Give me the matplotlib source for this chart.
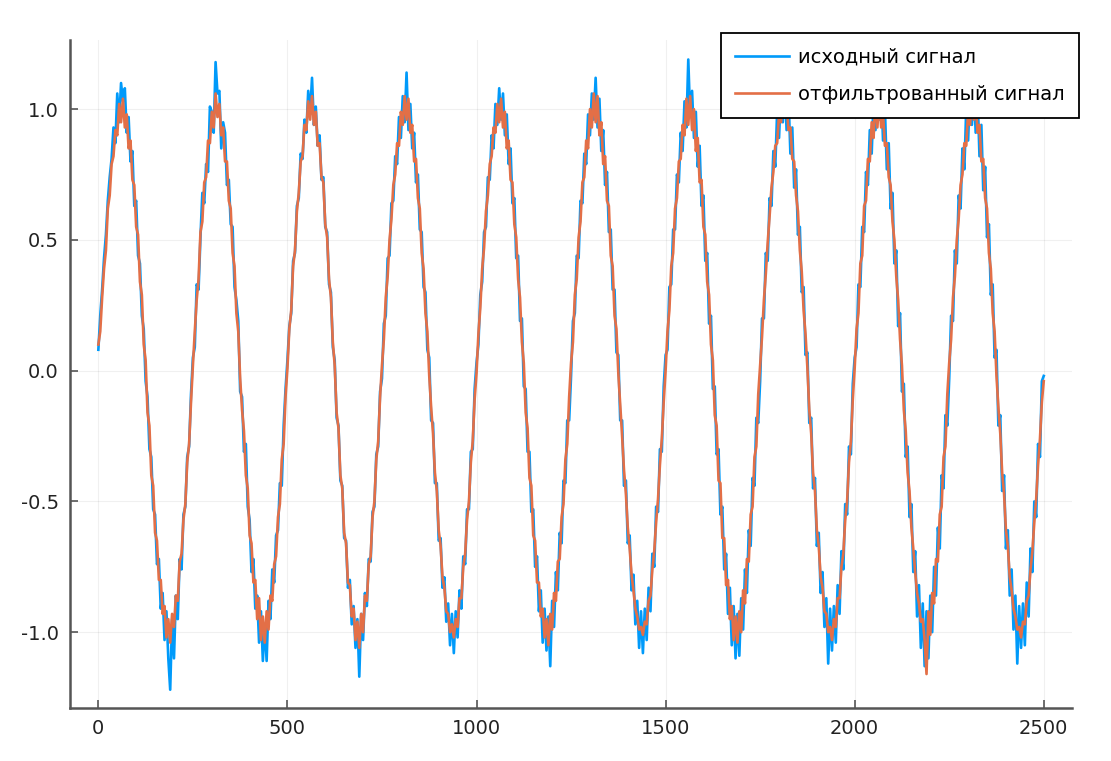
import numpy as np
import matplotlib
matplotlib.use("Agg")
from matplotlib import pyplot as plt

# sample step of the stored values (one value every 5 samples)
step = 5

# original (noisy) signal, one row per period of 250 samples
raw_c1 = [0.08, 0.21, 0.31, 0.43, 0.52, 0.65, 0.74, 0.81, 0.93, 0.87, 1.06, 0.95, 1.10, 1.03, 1.08, 0.91, 0.97, 0.80, 0.84, 0.63, 0.65, 0.44, 0.41, 0.21, 0.16,
          -0.04, -0.10, -0.30, -0.33, -0.53, -0.55, -0.74, -0.72, -0.91, -0.85, -1.03, -0.92, -1.10, -1.22, -0.95, -1.10, -0.86, -0.95, -0.72, -0.76, -0.55, -0.52, -0.33, -0.29, -0.09]
raw_c2 = [0.05, 0.09, 0.33, 0.31, 0.51, 0.68, 0.64, 0.79, 0.76, 1.01, 0.99, 0.91, 1.18, 1.06, 1.07, 0.85, 0.95, 0.91, 0.71, 0.73, 0.56, 0.55, 0.32, 0.27, 0.19,
          -0.08, -0.10, -0.31, -0.28, -0.52, -0.57, -0.77, -0.72, -0.91, -0.86, -1.04, -0.92, -1.11, -0.97, -1.11, -0.88, -0.95, -0.76, -0.81, -0.63, -0.61, -0.43, -0.44, -0.21, -0.07]
raw_c3 = [0.04, 0.17, 0.22, 0.42, 0.45, 0.63, 0.66, 0.83, 0.81, 0.96, 0.91, 1.07, 0.98, 1.12, 0.94, 1.01, 0.86, 0.90, 0.73, 0.74, 0.55, 0.53, 0.33, 0.30, 0.09,
          0.04, -0.18, -0.21, -0.42, -0.44, -0.64, -0.65, -0.83, -0.80, -0.97, -0.90, -1.06, -0.95, -1.17, -0.93, -1.03, -0.85, -0.90, -0.72, -0.73, -0.54, -0.52, -0.32, -0.29, -0.08]
raw_c4 = [-0.03, 0.18, 0.21, 0.43, 0.44, 0.64, 0.65, 0.82, 0.79, 0.97, 0.89, 1.05, 0.95, 1.14, 0.92, 1.02, 0.85, 0.91, 0.72, 0.75, 0.54, 0.53, 0.32, 0.30, 0.08,
          0.05, -0.19, -0.20, -0.43, -0.43, -0.65, -0.64, -0.83, -0.79, -0.96, -0.89, -1.05, -0.93, -1.08, -0.92, -1.02, -0.84, -0.91, -0.71, -0.74, -0.53, -0.53, -0.31, -0.30, -0.07]
raw_c5 = [0.03, 0.10, 0.29, 0.34, 0.53, 0.55, 0.74, 0.73, 0.90, 0.85, 1.02, 0.94, 1.08, 0.96, 1.06, 0.90, 0.98, 0.79, 0.85, 0.64, 0.66, 0.43, 0.44, 0.19, 0.20,
          -0.06, -0.07, -0.31, -0.31, -0.54, -0.53, -0.75, -0.71, -0.92, -0.84, -1.04, -0.91, -1.07, -0.94, -1.13, -0.88, -0.98, -0.77, -0.84, -0.62, -0.66, -0.42, -0.43, -0.19, -0.19]
raw_c6 = [-0.02, 0.19, 0.22, 0.44, 0.43, 0.65, 0.64, 0.83, 0.79, 0.98, 0.90, 1.06, 0.96, 1.12, 0.93, 1.04, 0.84, 0.92, 0.71, 0.76, 0.53, 0.54, 0.31, 0.31, 0.07,
          0.06, -0.19, -0.19, -0.44, -0.42, -0.66, -0.63, -0.84, -0.78, -0.97, -0.88, -1.06, -0.92, -1.08, -0.91, -1.03, -0.83, -0.92, -0.70, -0.75, -0.52, -0.54, -0.30, -0.31, -0.06]
raw_c7 = [0.06, 0.08, 0.32, 0.33, 0.54, 0.54, 0.75, 0.72, 0.91, 0.84, 1.03, 0.93, 1.19, 0.97, 1.07, 0.89, 0.99, 0.78, 0.86, 0.63, 0.67, 0.42, 0.45, 0.18, 0.21,
          -0.07, -0.06, -0.32, -0.30, -0.55, -0.52, -0.76, -0.70, -0.93, -0.83, -1.05, -0.90, -1.10, -0.93, -1.09, -0.87, -0.99, -0.76, -0.85, -0.61, -0.67, -0.41, -0.44, -0.18, -0.20]
raw_c8 = [-0.04, 0.20, 0.20, 0.45, 0.42, 0.66, 0.63, 0.84, 0.78, 0.99, 0.89, 1.07, 0.95, 1.10, 0.92, 1.05, 0.83, 0.93, 0.70, 0.77, 0.52, 0.55, 0.30, 0.32, 0.06,
          0.07, -0.20, -0.18, -0.45, -0.41, -0.67, -0.62, -0.85, -0.77, -0.98, -0.87, -1.12, -0.91, -1.07, -0.90, -1.04, -0.82, -0.93, -0.69, -0.76, -0.51, -0.55, -0.29, -0.32, -0.05]
raw_c9 = [0.05, 0.09, 0.33, 0.32, 0.55, 0.53, 0.76, 0.71, 0.92, 0.83, 1.04, 0.92, 1.09, 0.96, 1.08, 0.88, 1.00, 0.77, 0.87, 0.62, 0.68, 0.41, 0.46, 0.17, 0.22,
          -0.08, -0.05, -0.33, -0.29, -0.56, -0.51, -0.77, -0.69, -0.94, -0.82, -1.06, -0.89, -1.13, -0.92, -1.10, -0.86, -1.00, -0.75, -0.86, -0.60, -0.68, -0.40, -0.45, -0.17, -0.21]
raw_c10 = [-0.03, 0.21, 0.19, 0.46, 0.41, 0.67, 0.62, 0.85, 0.77, 1.00, 0.88, 1.08, 0.94, 1.09, 0.91, 1.06, 0.82, 0.94, 0.69, 0.78, 0.51, 0.56, 0.29, 0.33, 0.05,
           0.08, -0.21, -0.17, -0.46, -0.40, -0.68, -0.61, -0.86, -0.76, -0.99, -0.86, -1.12, -0.90, -1.06, -0.89, -1.05, -0.81, -0.94, -0.68, -0.77, -0.50, -0.56, -0.28, -0.33, -0.04,
           -0.02]

# filtered signal
flt_c1 = [0.10, 0.15, 0.28, 0.39, 0.46, 0.62, 0.67, 0.79, 0.82, 0.92, 0.90, 1.02, 0.95, 1.04, 0.93, 0.98, 0.85, 0.88, 0.73, 0.71, 0.55, 0.52, 0.34, 0.29, 0.10,
          0.04, -0.16, -0.21, -0.40, -0.44, -0.62, -0.65, -0.80, -0.80, -0.93, -0.90, -1.02, -0.95, -1.04, -0.93, -0.98, -0.86, -0.88, -0.73, -0.70, -0.57, -0.51, -0.35, -0.28, -0.12]
flt_c2 = [0.02, 0.15, 0.27, 0.35, 0.53, 0.57, 0.72, 0.74, 0.88, 0.87, 0.99, 0.93, 1.06, 0.97, 1.02, 0.90, 0.93, 0.80, 0.80, 0.65, 0.62, 0.45, 0.40, 0.22, 0.15,
          -0.03, -0.15, -0.23, -0.40, -0.45, -0.63, -0.66, -0.81, -0.80, -0.95, -0.87, -1.03, -0.94, -1.04, -0.92, -0.99, -0.86, -0.88, -0.74, -0.71, -0.56, -0.51, -0.34, -0.28, -0.10]
flt_c3 = [0.01, 0.16, 0.23, 0.40, 0.46, 0.61, 0.68, 0.80, 0.82, 0.94, 0.92, 1.03, 0.96, 1.05, 0.94, 0.99, 0.86, 0.87, 0.74, 0.72, 0.56, 0.51, 0.35, 0.28, 0.11,
          0.02, -0.16, -0.22, -0.40, -0.45, -0.62, -0.66, -0.81, -0.82, -0.94, -0.91, -1.03, -0.96, -1.06, -0.93, -1.00, -0.86, -0.88, -0.74, -0.71, -0.56, -0.50, -0.34, -0.27, -0.10]
flt_c4 = [0.02, 0.12, 0.28, 0.36, 0.50, 0.58, 0.71, 0.75, 0.87, 0.86, 0.99, 0.94, 1.05, 0.96, 1.04, 0.91, 0.94, 0.80, 0.81, 0.66, 0.62, 0.45, 0.39, 0.22, 0.15,
          -0.02, -0.14, -0.24, -0.39, -0.46, -0.61, -0.67, -0.79, -0.83, -0.92, -0.93, -1.00, -0.97, -1.02, -0.95, -0.98, -0.87, -0.87, -0.75, -0.70, -0.57, -0.50, -0.35, -0.27, -0.11]
flt_c5 = [-0.01, 0.14, 0.24, 0.39, 0.47, 0.61, 0.67, 0.79, 0.82, 0.93, 0.91, 1.02, 0.95, 1.04, 0.93, 0.99, 0.85, 0.88, 0.73, 0.72, 0.56, 0.51, 0.35, 0.28, 0.11,
          0.03, -0.16, -0.22, -0.41, -0.44, -0.63, -0.65, -0.81, -0.81, -0.94, -0.91, -1.02, -0.95, -1.05, -0.93, -0.99, -0.85, -0.88, -0.73, -0.72, -0.56, -0.51, -0.34, -0.28, -0.10]
flt_c6 = [0.03, 0.11, 0.29, 0.35, 0.51, 0.57, 0.72, 0.74, 0.88, 0.85, 1.00, 0.93, 1.06, 0.95, 1.05, 0.90, 0.95, 0.79, 0.82, 0.65, 0.63, 0.44, 0.40, 0.21, 0.16,
          -0.01, -0.13, -0.25, -0.38, -0.47, -0.60, -0.68, -0.78, -0.84, -0.91, -0.94, -0.99, -0.98, -1.01, -0.96, -0.97, -0.88, -0.86, -0.76, -0.69, -0.58, -0.49, -0.36, -0.26, -0.12]
flt_c7 = [0.00, 0.15, 0.23, 0.40, 0.45, 0.62, 0.66, 0.80, 0.81, 0.94, 0.90, 1.04, 0.94, 1.05, 0.92, 1.00, 0.84, 0.89, 0.72, 0.73, 0.55, 0.52, 0.34, 0.29, 0.10,
          0.04, -0.17, -0.21, -0.42, -0.43, -0.64, -0.64, -0.82, -0.80, -0.95, -0.90, -1.03, -0.94, -1.04, -0.92, -1.00, -0.84, -0.89, -0.72, -0.73, -0.55, -0.52, -0.33, -0.29, -0.09]
flt_c8 = [0.02, 0.13, 0.27, 0.37, 0.49, 0.59, 0.70, 0.76, 0.86, 0.87, 0.98, 0.95, 1.03, 0.97, 1.02, 0.92, 0.93, 0.81, 0.80, 0.67, 0.61, 0.46, 0.38, 0.23, 0.14,
          0.01, -0.15, -0.24, -0.39, -0.46, -0.61, -0.67, -0.79, -0.83, -0.92, -0.93, -1.00, -0.98, -1.03, -0.95, -0.98, -0.87, -0.87, -0.75, -0.70, -0.57, -0.50, -0.35, -0.27, -0.11]
flt_c9 = [0.01, 0.16, 0.22, 0.41, 0.44, 0.63, 0.65, 0.81, 0.80, 0.95, 0.89, 1.05, 0.93, 1.04, 0.93, 0.98, 0.86, 0.87, 0.74, 0.71, 0.57, 0.50, 0.36, 0.27, 0.12,
          0.02, -0.15, -0.23, -0.39, -0.46, -0.60, -0.68, -0.77, -0.85, -0.89, -0.96, -0.95, -1.03, -1.16, -0.92, -1.01, -0.85, -0.89, -0.72, -0.73, -0.55, -0.52, -0.33, -0.29, -0.09]
flt_c10 = [0.03, 0.12, 0.28, 0.36, 0.50, 0.58, 0.71, 0.75, 0.87, 0.86, 0.99, 0.94, 1.04, 0.96, 1.03, 0.91, 0.94, 0.80, 0.81, 0.66, 0.62, 0.45, 0.39, 0.22, 0.15,
           -0.02, -0.14, -0.24, -0.39, -0.47, -0.61, -0.67, -0.79, -0.84, -0.91, -0.94, -0.99, -0.98, -1.02, -0.96, -0.97, -0.88, -0.86, -0.76, -0.69, -0.58, -0.49, -0.36, -0.26, -0.12,
           -0.04]

labels = ["исходный сигнал", "отфильтрованный сигнал"]
x_ticks = [0, 500, 1000, 1500, 2000, 2500]
y_ticks = [-1.0, -0.5, 0.0, 0.5, 1.0]

raw = np.concatenate([raw_c1, raw_c2, raw_c3, raw_c4, raw_c5, raw_c6, raw_c7, raw_c8, raw_c9, raw_c10])
flt = np.concatenate([flt_c1, flt_c2, flt_c3, flt_c4, flt_c5, flt_c6, flt_c7, flt_c8, flt_c9, flt_c10])
x = np.arange(len(raw)) * step

fig = plt.figure(figsize=(11.11, 7.61), dpi=100)
ax = fig.add_axes([0.063, 0.0696, 0.902, 0.878])

ax.plot(x, raw, color="#009AFA", lw=1.9, label=labels[0])
ax.plot(x, flt, color="#E36F47", lw=1.9, label=labels[1])

ax.set_xlim(-75, 2575)
ax.set_ylim(-1.29, 1.265)
ax.set_xticks(x_ticks)
ax.set_yticks(y_ticks)
ax.set_yticklabels([f"{v:.1f}" for v in y_ticks])
ax.grid(True, color="black", alpha=0.06, lw=0.8)
for s in ["top", "right"]:
    ax.spines[s].set_visible(False)
for s in ["left", "bottom"]:
    ax.spines[s].set_color("#555555")
    ax.spines[s].set_linewidth(1.8)
ax.tick_params(direction="in", length=6, width=1.2, color="#555555", labelcolor="#222222",
               labelsize=14, pad=8)

leg = ax.legend(loc="upper right", bbox_to_anchor=(0.971, 0.957), bbox_transform=fig.transFigure,
                borderaxespad=0, fontsize=14, fancybox=False, framealpha=1, edgecolor="black",
                handlelength=2.75, handletextpad=0.45, borderpad=0.75, labelspacing=0.95)
leg.get_frame().set_linewidth(1.3)

fig.savefig("out.png", dpi=100)
